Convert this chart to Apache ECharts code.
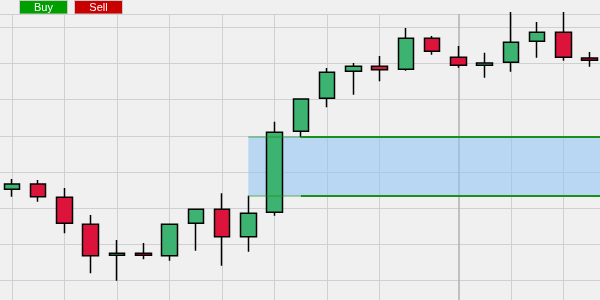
<!DOCTYPE html>
<html><head><meta charset="utf-8">
<script src="https://cdn.jsdelivr.net/npm/echarts@6/dist/echarts.min.js"></script>
<style>html,body{margin:0;padding:0;background:#f0f0f0}#c{width:600px;height:300px}</style>
</head><body><div id="c"></div>
<script>
// Candle times (hourly)
const times = ['Mon 04:00','Mon 05:00','Mon 06:00','Mon 07:00','Mon 08:00','Mon 09:00','Mon 10:00','Mon 11:00',
  'Mon 12:00','Mon 13:00','Mon 14:00','Mon 15:00','Mon 16:00','Mon 17:00','Mon 18:00','Mon 19:00','Mon 20:00',
  'Tue 00:00','Tue 01:00','Tue 02:00','Tue 03:00','Tue 04:00','Tue 05:00'];
const padBefore = 'Mon 03:00';
const padAfter = 'Tue 06:00';
const opens  = [35.18, 36.65, 32.97, 25.50, 16.92, 17.47, 16.81, 25.77, 29.65, 22.06, 28.82, 51.23, 60.36, 67.83, 69.21, 68.38, 76.96, 71.70, 69.49, 70.32, 76.13, 78.62, 71.51];
const closes = [36.65, 33.13, 25.77, 16.81, 17.47, 16.92, 25.50, 29.65, 22.06, 28.54, 50.95, 60.17, 67.55, 69.21, 68.27, 76.96, 73.36, 69.49, 70.13, 75.86, 78.62, 71.70, 70.87];
const lows   = [33.13, 31.75, 23.00, 11.94, 9.89, 15.81, 15.42, 18.19, 14.04, 17.91, 27.88, 49.60, 57.87, 61.36, 65.06, 68.00, 72.42, 68.83, 66.06, 67.72, 71.59, 70.76, 69.10];
const highs  = [38.03, 37.75, 35.54, 28.07, 21.15, 20.32, 25.50, 29.65, 34.07, 33.41, 53.88, 60.17, 68.74, 70.13, 72.06, 79.81, 77.60, 74.83, 72.98, 84.24, 81.47, 84.24, 73.17];
// Zone
const zoneTop = 49.73;
const zoneBottom = 33.41;
const zoneStart = 'Mon 13:00';
const zoneLineStart = 'Mon 15:00';
// Vertical grid times
const gridTimes = ['Mon 04:00','Mon 06:00','Mon 08:00','Mon 10:00','Mon 12:00','Mon 14:00','Mon 16:00','Mon 18:00',
  'Tue 02:00','Tue 04:00'];
const sessionStart = 'Tue 00:00';
// y axis
const yMin = 0, yMax = 83.7, yStep = 10;

const axisCats = [padBefore, ...times, padAfter];
const candleData = axisCats.map(c => {
  const i = times.indexOf(c);
  return i < 0 ? '-' : [opens[i], closes[i], lows[i], highs[i]];
});

const chart = echarts.init(document.getElementById('c'), null, {renderer: 'canvas'});
const green = '#1a8f1a';
const hidden = {axisLine: {show: false}, axisTick: {show: false}, axisLabel: {show: false}};
chart.setOption({
  animation: false,
  backgroundColor: '#f0f0f0',
  grid: {left: -14.3, right: -16, top: 14, bottom: -16.4, containLabel: false, outerBoundsMode: 'none'},
  xAxis: [
    Object.assign({
      type: 'category', data: axisCats, boundaryGap: false,
      splitLine: {show: true, interval: (i, v) => gridTimes.includes(v), lineStyle: {color: '#d0d0d0', width: 1}}
    }, hidden),
    Object.assign({
      type: 'category', data: axisCats, boundaryGap: false, position: 'bottom',
      splitLine: {show: true, interval: (i, v) => v === sessionStart, lineStyle: {color: '#b0b0b0', width: 1.5}}
    }, hidden)
  ],
  yAxis: Object.assign({
    type: 'value', min: yMin, max: yMax, interval: yStep,
    splitLine: {show: true, showMinLine: true, showMaxLine: true, lineStyle: {color: '#d0d0d0', width: 1}}
  }, hidden),
  series: [
    {
      type: 'line', name: 'zone', z: 1, data: axisCats.map(() => '-'), symbol: 'none', silent: true,
      markArea: {
        silent: true,
        itemStyle: {color: 'rgba(140,195,245,0.55)'},
        data: [[{coord: [zoneStart, zoneTop]}, {coord: [padAfter, zoneBottom]}]]
      },
      markLine: {
        silent: true, symbol: ['none', 'none'], label: {show: false},
        data: [
          [{coord: [zoneStart, zoneTop], lineStyle: {color: 'rgba(26,143,26,0.35)', width: 2, type: 'solid'}}, {coord: [zoneLineStart, zoneTop]}],
          [{coord: [zoneStart, zoneBottom], lineStyle: {color: 'rgba(26,143,26,0.35)', width: 2, type: 'solid'}}, {coord: [zoneLineStart, zoneBottom]}],
          [{coord: [zoneLineStart, zoneTop], lineStyle: {color: green, width: 2, type: 'solid'}}, {coord: [padAfter, zoneTop]}],
          [{coord: [zoneLineStart, zoneBottom], lineStyle: {color: green, width: 2, type: 'solid'}}, {coord: [padAfter, zoneBottom]}]
        ]
      }
    },
    {
      type: 'candlestick', name: 'price', z: 3, data: candleData, barWidth: 16, clip: false,
      itemStyle: {color: '#3cb371', color0: '#dc143c', borderColor: '#000', borderColor0: '#000', borderWidth: 1.5}
    }
  ],
  graphic: [
    {type: 'group', left: 19, top: 0, z: 100, children: [
      {type: 'rect', shape: {x: 0, y: 0, width: 48, height: 13.5}, style: {fill: '#009f00', stroke: '#c8c8c8', lineWidth: 1}},
      {type: 'text', style: {text: 'Buy', x: 24, y: 7, align: 'center', verticalAlign: 'middle', fill: '#fff', font: '11px "Liberation Sans", Arial, sans-serif'}}
    ]},
    {type: 'group', left: 74, top: 0, z: 100, children: [
      {type: 'rect', shape: {x: 0, y: 0, width: 48, height: 13.5}, style: {fill: '#c80000', stroke: '#c8c8c8', lineWidth: 1}},
      {type: 'text', style: {text: 'Sell', x: 24, y: 7, align: 'center', verticalAlign: 'middle', fill: '#fff', font: '11px "Liberation Sans", Arial, sans-serif'}}
    ]}
  ]
});
</script></body></html>
